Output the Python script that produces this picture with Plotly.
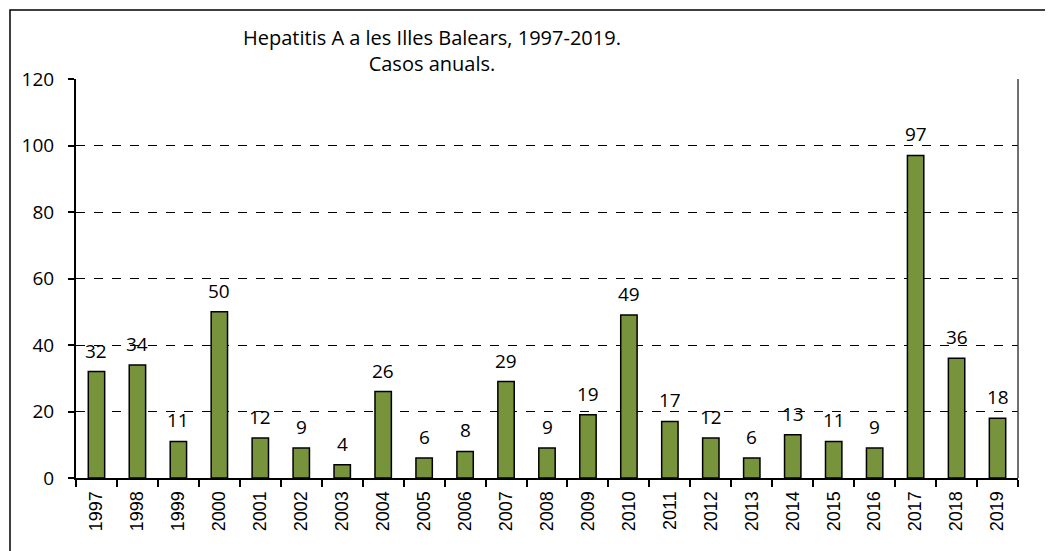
import plotly.graph_objects as go

years = [str(y) for y in range(1997, 2020)]
cases = [32, 34, 11, 50, 12, 9, 4, 26, 6, 8, 29, 9, 19, 49, 17, 12, 6, 13, 11, 9, 97, 36, 18]
y_ticks = [0, 20, 40, 60, 80, 100, 120]

# page body has an 8px margin, so the figure is drawn 8px smaller and shifted
OFF = 8
W, H = 1053 - OFF, 551 - OFF
L, R, T, B = 76 - OFF, 1018 - OFF, 79 - OFF, 478 - OFF

fig = go.Figure()
fig.add_trace(go.Bar(
    x=years, y=cases,
    marker=dict(color="#77933C", line=dict(color="#000000", width=1.5)),
    cliponaxis=False,
))
for i, v in enumerate(cases):
    fig.add_annotation(x=i, y=v, text=str(v), showarrow=False,
                       yanchor="bottom", yshift=6,
                       font=dict(family="Open Sans", size=19, color="#000000"))

fig.update_layout(
    width=W, height=H,
    margin=dict(l=L, r=W - R, t=T, b=H - B, autoexpand=False),
    paper_bgcolor="white", plot_bgcolor="white",
    bargap=0.6, showlegend=False,
    font=dict(family="Open Sans", color="#000000"),
)
fig.update_xaxes(
    type="category", range=[-0.5, len(years) - 0.5],
    showline=True, linecolor="#000000", linewidth=2,
    ticks="outside", tickson="boundaries", ticklen=7, tickwidth=2, tickcolor="#000000",
    tickangle=-90, tickfont=dict(family="Liberation Sans Narrow, Liberation Sans", size=18, color="#000000"),
    ticklabelstandoff=4, showgrid=False,
)
fig.update_yaxes(
    range=[0, 120], tickvals=y_ticks, showline=True, linecolor="#000000", linewidth=2,
    ticks="outside", ticklen=6, tickwidth=1.5, tickcolor="#000000",
    tickfont=dict(family="Open Sans", size=19, color="#000000"),
    showgrid=True, gridcolor="#000000", gridwidth=1, griddash="dash",
    zeroline=False, ticklabelstandoff=10,
)

pw, ph = R - L, B - T
# outer border (top and left visible)
fig.add_shape(type="rect", xref="paper", yref="paper",
              x0=(2 - L) / pw, x1=(1070 - L) / pw,
              y0=(B - 570) / ph, y1=(B - 2) / ph,
              line=dict(color="#000000", width=1.5), fillcolor="rgba(0,0,0,0)", layer="below")
# right frame line
fig.add_shape(type="line", xref="paper", yref="paper", x0=1, x1=1, y0=0, y1=1,
              line=dict(color="#404040", width=1.5))

fig.add_annotation(
    text="Hepatitis A a les Illes Balears, 1997-2019.<br>Casos anuals.",
    xref="paper", yref="paper",
    x=(424 - L) / pw, y=(B - 42) / ph, xanchor="center", yanchor="middle",
    showarrow=False, font=dict(family="Open Sans", size=20, color="#000000"),
)

fig.write_html("out.html")
